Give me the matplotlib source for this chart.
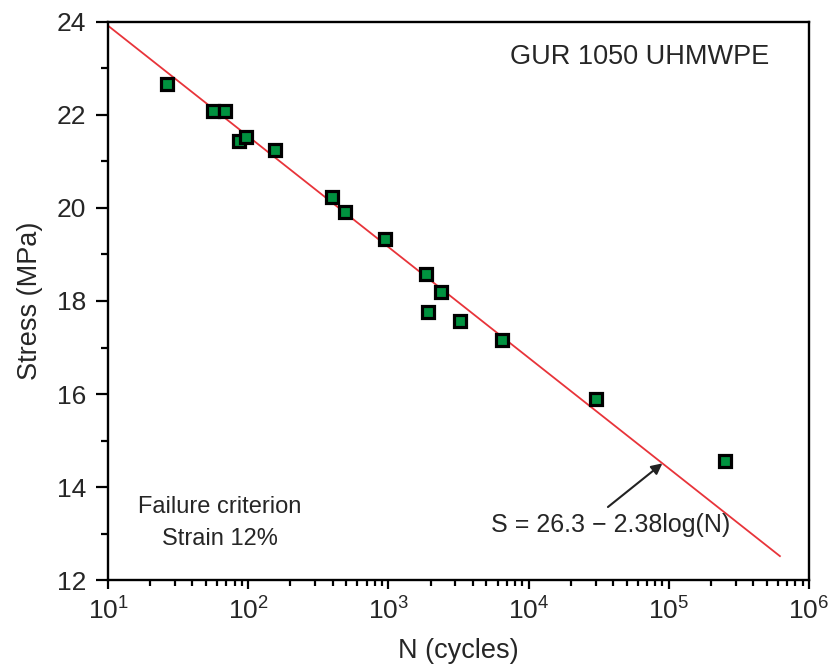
import numpy as np
import matplotlib
matplotlib.use("Agg")
import matplotlib.pyplot as plt
from matplotlib.ticker import LogLocator, MultipleLocator, LogFormatterMathtext

plt.rcParams['font.family'] = ['Liberation Sans', 'DejaVu Sans']
plt.rcParams['mathtext.fontset'] = 'custom'
plt.rcParams['mathtext.rm'] = 'Liberation Sans'
plt.rcParams['mathtext.it'] = 'Liberation Sans:italic'
plt.rcParams['mathtext.bf'] = 'Liberation Sans:bold'

# Fatigue test results: cycles to failure and applied stress
cycles = [26.4, 56, 68, 86, 97, 155, 396, 492, 950, 1840, 2390, 1930, 3250, 6450, 30200, 252000]
stress = [22.67, 22.09, 22.09, 21.44, 21.53, 21.25, 20.23, 19.91, 19.33, 18.58, 18.20, 17.77, 17.56, 17.16, 15.89, 14.55]

# S-N fit: S = a - b*log10(N)
fit_a = 26.3
fit_b = 2.38
fit_range = [10, 6.2e5]

text_color = '#262626'

fig = plt.figure(figsize=(8.38, 6.66), dpi=100)
ax = fig.add_axes([0.1289, 0.1291, 0.8365, 0.8379])

n_fit = np.logspace(np.log10(fit_range[0]), np.log10(fit_range[1]), 200)
s_fit = fit_a - fit_b * np.log10(n_fit)
ax.plot(n_fit, s_fit, color='#e8343a', lw=1.3, zorder=2)

ax.plot(cycles, stress, linestyle='none', marker='s', markersize=8.6,
        markerfacecolor='#00923f', markeredgecolor='black', markeredgewidth=2.3, zorder=3)

ax.set_xscale('log')
ax.set_xlim(10, 1e6)
ax.set_ylim(12, 24)

ax.yaxis.set_major_locator(MultipleLocator(2))
ax.yaxis.set_minor_locator(MultipleLocator(1))
ax.xaxis.set_major_locator(LogLocator(base=10, numticks=10))
ax.xaxis.set_minor_locator(LogLocator(base=10, subs=np.arange(2, 10), numticks=20))
ax.xaxis.set_major_formatter(LogFormatterMathtext())

for sp in ax.spines.values():
    sp.set_linewidth(1.7)
    sp.set_color('black')

ax.tick_params(axis='both', which='both', direction='out', colors='black',
               labelcolor=text_color, labelsize=19, width=1.6, top=False, right=False)
ax.tick_params(axis='y', which='major', length=8.6, pad=7)
ax.tick_params(axis='y', which='minor', length=5)
ax.tick_params(axis='x', which='major', length=6.5, pad=6)
ax.tick_params(axis='x', which='minor', length=4.3)

ax.set_xlabel('N (cycles)', fontsize=19.5, color=text_color, labelpad=10)
ax.set_ylabel('Stress (MPa)', fontsize=19.5, color=text_color, labelpad=10)

ax.text(0.759, 0.937, 'GUR 1050 UHMWPE', transform=ax.transAxes, fontsize=19.5,
        color=text_color, ha='center', va='center')
ax.text(0.159, 0.102, 'Failure criterion\nStrain 12%', transform=ax.transAxes,
        fontsize=17, color=text_color, ha='center', va='center', linespacing=1.6)

arrow_n = 9.0e4
arrow_s = fit_a - fit_b * np.log10(arrow_n)
ax.annotate('', xy=(arrow_n, arrow_s), xytext=(3.68e4, 13.57),
            arrowprops=dict(arrowstyle='-|>', color='#222222', lw=1.5,
                            mutation_scale=16, shrinkA=0, shrinkB=0))
ax.text(0.7175, 0.0986, f'S = {fit_a} \u2212 {fit_b}log(N)', transform=ax.transAxes,
        fontsize=18, color=text_color, ha='center', va='center')

fig.savefig('out.png', dpi=100)
